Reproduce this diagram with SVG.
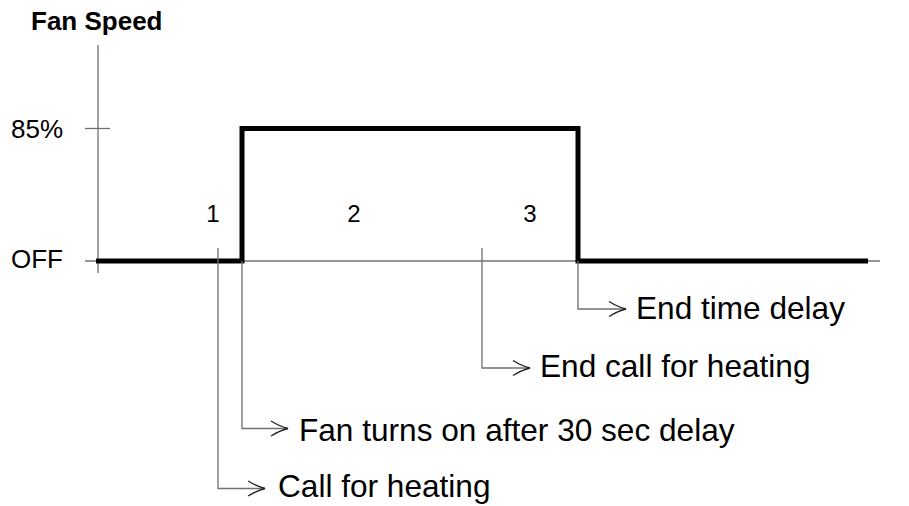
<svg xmlns="http://www.w3.org/2000/svg" width="909" height="506" viewBox="0 0 909 506">
<defs>
<style>
.ax{stroke:#707070;stroke-width:1.3;fill:none}
.ld{stroke:#707070;stroke-width:1.3;fill:none}
.ah{stroke:#222;stroke-width:1.3;fill:none}
.sig{stroke:#000;stroke-width:5;fill:none;stroke-linejoin:miter;stroke-linecap:butt}
.t{font-family:"Liberation Sans",Arial,sans-serif;fill:#000}
.lbl{font-size:31.6px}
.ylbl{font-size:26px}
.num{font-size:24px}
</style>
</defs>
<rect width="909" height="506" fill="#fff"/>
<g id="axes">
<line class="ax" x1="98" y1="45" x2="98" y2="273"/>
<line class="ax" x1="85" y1="128.5" x2="110" y2="128.5"/>
<line class="ax" x1="85" y1="261" x2="880" y2="261"/>
<text class="t" x="31" y="29.5" font-size="26" font-weight="bold">Fan Speed</text>
<text class="t ylbl" x="11" y="138">85%</text>
<text class="t ylbl" x="11" y="268">OFF</text>
</g>
<g id="signal">
<polyline class="sig" points="96,261 242,261 242,128.5 578,128.5 578,261 868,261"/>
</g>
<g id="phases">
<text class="t num" x="213" y="222" text-anchor="middle">1</text>
<text class="t num" x="354" y="222" text-anchor="middle">2</text>
<text class="t num" x="530" y="222" text-anchor="middle">3</text>
</g>
<g id="connectors">
<polyline class="ld" points="218,248 218,488.5 265,488.5"/>
<path class="ah" d="M248,481 Q257,486.5 265,488.5 Q257,490.5 248,496"/>
<polyline class="ld" points="242,261 242,428.5 288,428.5"/>
<path class="ah" d="M271,421 Q280,426.5 288,428.5 Q280,430.5 271,436"/>
<polyline class="ld" points="482,248 482,368 530,368"/>
<path class="ah" d="M513,360.5 Q522,366 530,368 Q522,370 513,375.5"/>
<polyline class="ld" points="578,261 578,309 626,309"/>
<path class="ah" d="M609,301.5 Q618,307 626,309 Q618,311 609,316.5"/>
</g>
<g id="note-call">
<text class="t lbl" x="278" y="497">Call for heating</text>
</g>
<g id="note-fan">
<text class="t lbl" x="299" y="441">Fan turns on after 30 sec delay</text>
</g>
<g id="note-endcall">
<text class="t lbl" x="540" y="377">End call for heating</text>
</g>
<g id="note-endtime">
<text class="t lbl" x="636" y="319">End time delay</text>
</g>
</svg>
